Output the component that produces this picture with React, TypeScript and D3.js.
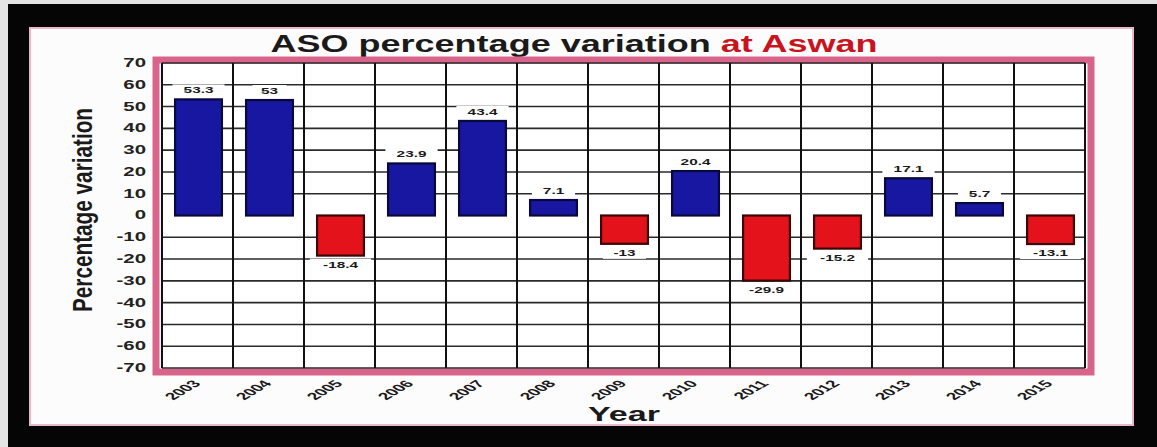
import React from "react";
import * as d3 from "d3";

// ASO percentage variation at Aswan, per year
const years = ["2003", "2004", "2005", "2006", "2007", "2008", "2009", "2010", "2011", "2012", "2013", "2014", "2015"];
const variation = [53.3, 53, -18.4, 23.9, 43.4, 7.1, -13, 20.4, -29.9, -15.2, 17.1, 5.7, -13.1];
const yTicks = [70, 60, 50, 40, 30, 20, 10, 0, -10, -20, -30, -40, -50, -60, -70];

const W = 1157;
const H = 447;
const plot = { left: 162, right: 1085, top: 63, bottom: 368 };
const FONT = "'Liberation Sans', Arial, sans-serif";
const SX = 1.7; // horizontal widening of the lettering

export default function App() {
  const x = d3.scaleBand<string>().domain(years).range([plot.left, plot.right]).padding(0);
  const y = d3.scaleLinear().domain([-70, 70]).range([plot.bottom, plot.top]);
  const barW = x.bandwidth() * 0.66;

  return (
    <div style={{ position: "fixed", left: 0, top: 0, width: W, height: H }}>
      <svg width={W} height={H} style={{ display: "block" }}>
        {/* frame */}
        <rect x={0} y={0} width={W} height={H} fill="#e4e4e4" />
        <rect x={8} y={4} width={W - 8} height={H - 4} fill="#050505" />
        <rect x={30} y={28} width={1103} height={397} fill="#fdfcfd" stroke="#eab8cc" strokeWidth={2} />

        {/* title */}
        <text x={574} y={52} textAnchor="middle" fontFamily={FONT} fontWeight="bold" fontSize={23}
          textLength={607} lengthAdjust="spacingAndGlyphs">
          <tspan fill="#1a1a1a">ASO percentage variation </tspan>
          <tspan fill="#c8141e">at Aswan</tspan>
        </text>

        {/* plot frame */}
        <rect x={156} y={60} width={935} height={312} fill="#ffffff" stroke="#d9648b" strokeWidth={7} />

        {/* horizontal grid (no line at zero) */}
        {yTicks.filter((t) => t !== 0).map((t) => (
          <line key={"h" + t} x1={plot.left} x2={plot.right} y1={y(t)} y2={y(t)} stroke="#2a2a2a" strokeWidth={1.6} />
        ))}
        {/* vertical grid */}
        {years.map((yr) => (
          <line key={"v" + yr} x1={x(yr)!} x2={x(yr)!} y1={plot.top} y2={plot.bottom} stroke="#111" strokeWidth={2} />
        ))}
        <line x1={plot.right} x2={plot.right} y1={plot.top} y2={plot.bottom} stroke="#111" strokeWidth={2} />

        {/* y tick labels */}
        {yTicks.map((t) => (
          <text key={"yt" + t} transform={`translate(146,${y(t)}) scale(${SX},1)`} textAnchor="end"
            dominantBaseline="central" fontFamily={FONT} fontWeight="bold" fontSize={12} fill="#222">
            {String(t)}
          </text>
        ))}

        {/* bars */}
        {years.map((yr, i) => {
          const v = variation[i];
          const cx = x(yr)! + x.bandwidth() / 2 + 1;
          const y0 = y(0);
          const yv = y(v);
          const pos = v >= 0;
          return (
            <rect key={"b" + yr} x={cx - barW / 2} y={Math.min(y0, yv)} width={barW} height={Math.abs(yv - y0)}
              fill={pos ? "#1717a2" : "#e4121a"} stroke={pos ? "#08083a" : "#3a0606"} strokeWidth={2.2} />
          );
        })}

        {/* value labels */}
        {years.map((yr, i) => {
          const v = variation[i];
          const cx = x(yr)! + x.bandwidth() / 2 + 1;
          const label = String(v);
          const pos = v >= 0;
          const base = pos ? y(v) - 6 : y(v) + 12;
          const w = label.length * 5.6 * SX * 0.95;
          return (
            <g key={"l" + yr}>
              <rect x={cx - w / 2 - 8} y={base - 9} width={w + 16} height={12} fill="#ffffff" />
              <text transform={`translate(${cx},${base}) scale(${SX},1)`} textAnchor="middle" fontFamily={FONT}
                fontWeight="bold" fontSize={9} fill="#1a1a1a">
                {label}
              </text>
            </g>
          );
        })}

        {/* x tick labels */}
        {years.map((yr) => {
          const cx = x(yr)! + x.bandwidth() / 2 + 4;
          return (
            <text key={"xt" + yr} transform={`translate(${cx},384) scale(1.9,1) rotate(-48)`} textAnchor="end"
              fontFamily={FONT} fontWeight="bold" fontSize={10} fill="#1a1a1a">
              {yr}
            </text>
          );
        })}

        {/* axis titles */}
        <text x={624} y={421} textAnchor="middle" fontFamily={FONT} fontWeight="bold" fontSize={20}
          textLength={72} lengthAdjust="spacingAndGlyphs" fill="#1a1a1a">
          Year
        </text>
        <text transform="translate(92,210) scale(1.5,1) rotate(-90)" textAnchor="middle" fontFamily={FONT}
          fontWeight="bold" fontSize={19} textLength={204} lengthAdjust="spacingAndGlyphs" fill="#1a1a1a">
          Percentage variation
        </text>
      </svg>
    </div>
  );
}
